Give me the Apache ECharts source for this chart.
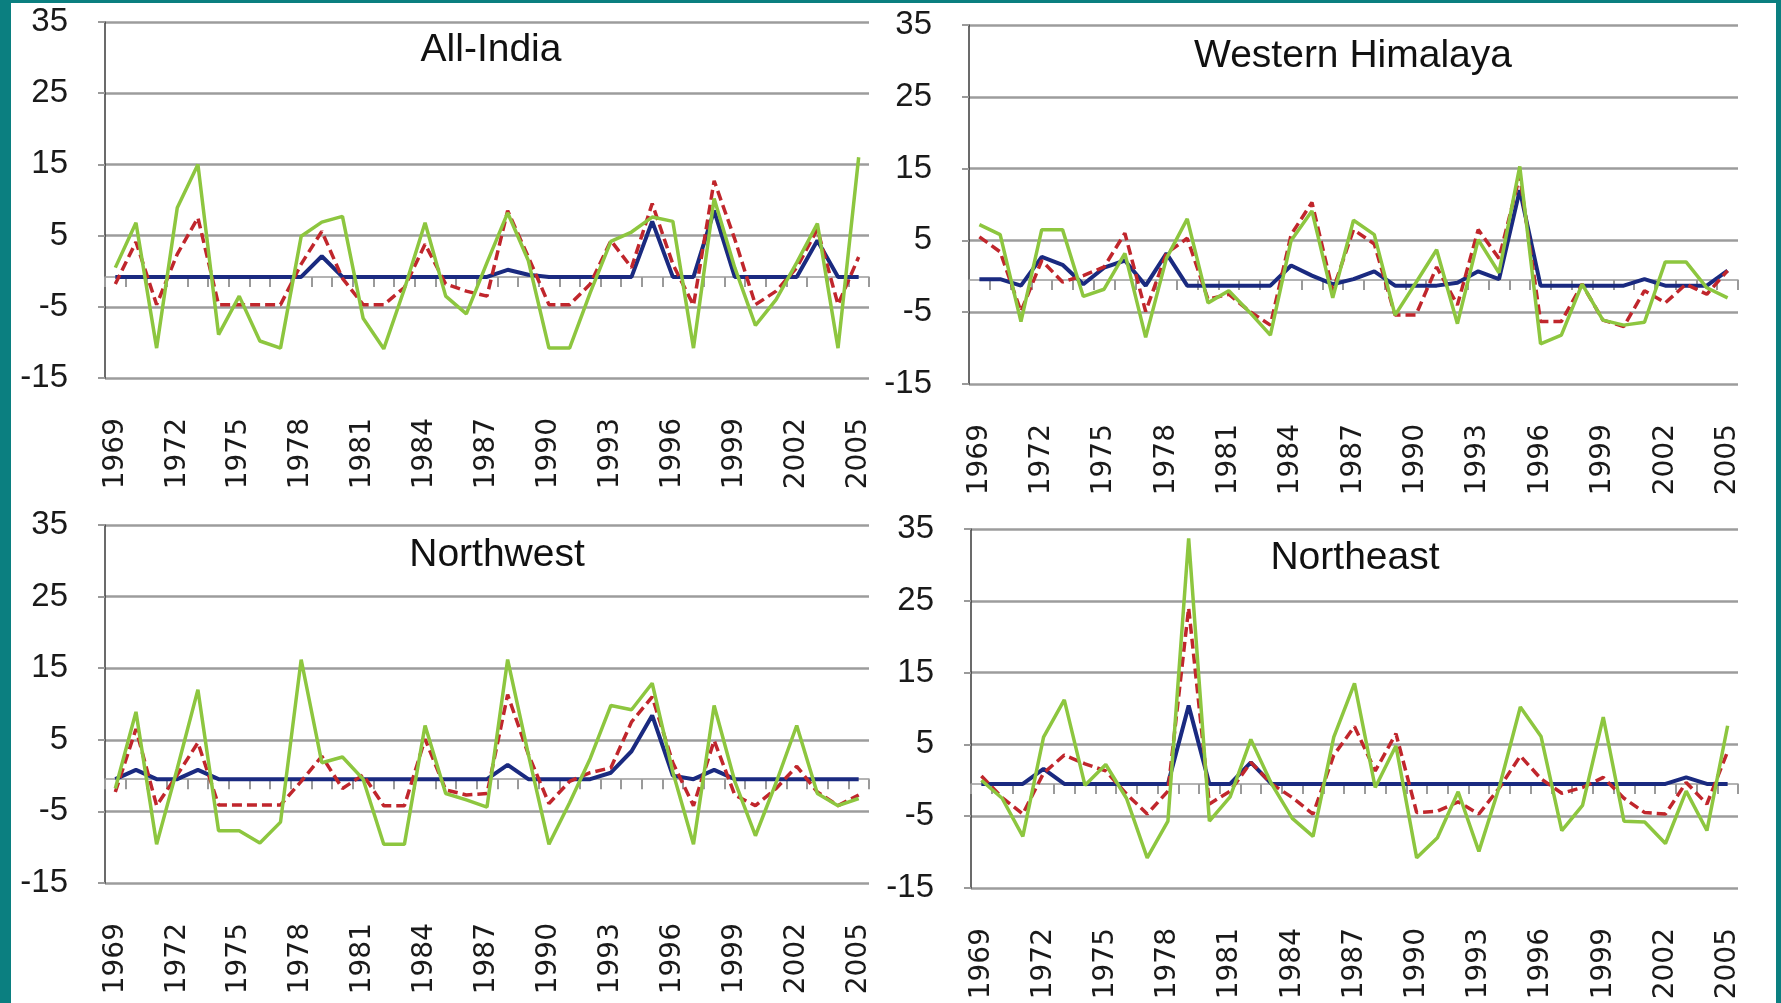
<!DOCTYPE html>
<html><head><meta charset="utf-8">
<script src="https://cdn.jsdelivr.net/npm/echarts@6/dist/echarts.min.js"></script>
<style>
html,body{margin:0;padding:0;width:1781px;height:1003px;overflow:hidden;background:#0b7f80;}
#paper{position:absolute;left:11px;top:3px;right:5px;bottom:0;background:#ffffff;}
#chart{position:absolute;left:0;top:0;width:1781px;height:1003px;}
</style></head><body><div id="paper"></div><div id="chart"></div>
<script>
const years = ['1969','1970','1971','1972','1973','1974','1975','1976','1977','1978','1979','1980','1981','1982','1983','1984','1985','1986','1987','1988','1989','1990','1991','1992','1993','1994','1995','1996','1997','1998','1999','2000','2001','2002','2003','2004','2005'];

const panelTitles = ['All-India', 'Western Himalaya', 'Northwest', 'Northeast'];
// value where the category axis line crosses each panel's y axis
const axisCross = [-0.8, -0.5, -0.5, -0.5];

const allIndiaBlue  = [-0.8,-0.8,-0.8,-0.8,-0.8,-0.8,-0.8,-0.8,-0.8,-0.8,2.1,-0.8,-0.8,-0.8,-0.8,-0.8,-0.8,-0.8,-0.8,0.2,-0.5,-0.8,-0.8,-0.8,-0.8,-0.8,7,-0.8,-0.8,8.5,-0.8,-0.8,-0.8,-0.8,4.3,-0.8,-0.8];
const allIndiaRed   = [-1.8,4.1,-4.7,2.4,7.5,-4.7,-4.7,-4.7,-4.7,1,5.6,-1,-4.7,-4.7,-2.3,3.8,-1.8,-2.8,-3.5,8.5,2,-4.7,-4.7,-1.8,4.3,0.5,9.5,1,-4.8,12.7,4.5,-4.7,-2.8,0.5,5.9,-4.7,2];
const allIndiaGreen = [0.5,6.8,-10.8,8.9,15,-8.9,-3.5,-9.8,-10.8,4.9,6.9,7.7,-6.6,-10.9,-2.5,6.8,-3.5,-6,1.2,8.2,1.5,-10.8,-10.8,-3,4.2,5.5,7.6,7,-10.8,10.2,0.5,-7.6,-4,1.2,6.7,-10.8,16];

const wHimBlue  = [-0.4,-0.4,-1.3,2.7,1.6,-1.1,1.2,2.2,-1.3,3.2,-1.3,-1.3,-1.3,-1.3,-1.3,1.5,0.1,-1.1,-0.4,0.7,-1.3,-1.3,-1.3,-0.9,0.7,-0.4,12,-1.3,-1.3,-1.3,-1.3,-1.3,-0.4,-1.3,-1.3,-1.3,0.8];
const wHimRed   = [5.5,3.4,-4.9,2.2,-0.8,0.1,1.3,6,-4.9,3.2,5.3,-3.2,-2.5,-4.9,-6.8,5.8,10.3,-2,6.5,4.5,-5.4,-5.4,1.3,-4,6.5,2.5,14,-6.3,-6.3,-1.1,-6.1,-7,-2,-3.7,-1.1,-2.5,0.8];
const wHimGreen = [7.2,5.8,-6.3,6.5,6.5,-2.8,-1.8,3.2,-8.5,2.5,8,-3.7,-2,-5,-8.2,5,9.1,-3,7.8,5.8,-5.4,-0.9,3.7,-6.6,5.1,0.5,15.3,-9.4,-8.2,-1.1,-6.1,-6.8,-6.4,2,2,-1.6,-3];

const nwBlue  = [-0.5,0.8,-0.5,-0.5,0.8,-0.5,-0.5,-0.5,-0.5,-0.5,-0.5,-0.5,-0.5,-0.5,-0.5,-0.5,-0.5,-0.5,-0.5,1.5,-0.5,-0.5,-0.5,-0.5,0.4,3.4,8.4,0,-0.5,0.8,-0.5,-0.5,-0.5,-0.5,-0.5,-0.5,-0.5];
const nwRed   = [-2.3,6.5,-4.2,0.1,4.6,-4.1,-4.1,-4.1,-4.1,-0.8,2.7,-1.8,0.1,-4.2,-4.2,5.1,-2,-2.7,-2.5,11.3,3,-3.9,-0.8,0.4,1.1,7.5,11,1.8,-4.2,4.9,-2.7,-4.2,-1.8,1.3,-2.3,-4.2,-2.7];
const nwGreen = [-1.8,8.9,-9.6,1,12,-7.7,-7.7,-9.4,-6.5,16.2,1.8,2.6,-0.5,-9.6,-9.6,7,-2.5,-3.4,-4.4,16.2,3,-9.6,-3.8,2.4,9.8,9.2,12.9,0.5,-9.6,9.8,-0.8,-8.4,-1,7,-2.5,-4.2,-3.2];

const neBlue  = [-0.5,-0.5,-0.5,1.6,-0.5,-0.5,-0.5,-0.5,-0.5,-0.5,10.4,-0.5,-0.5,2.5,-0.5,-0.5,-0.5,-0.5,-0.5,-0.5,-0.5,-0.5,-0.5,-0.5,-0.5,-0.5,-0.5,-0.5,-0.5,-0.5,-0.5,-0.5,-0.5,-0.5,0.4,-0.5,-0.5];
const neRed   = [0.6,-2.4,-4.7,1,3.5,2.3,1.3,-1.9,-4.7,-1.5,24,-3.3,-1.5,2.5,-0.5,-2.4,-4.7,3.5,7.5,1.3,6.5,-4.5,-4.3,-3,-4.7,-1,3.4,0.2,-1.8,-1,0.4,-2.5,-4.5,-4.7,-0.3,-3.3,4];
const neGreen = [0,-2.5,-7.8,6,11.2,-0.7,2.2,-2.5,-10.8,-5.7,33.7,-5.7,-2.3,5.7,-0.5,-5.3,-7.8,6,13.5,-1,4.8,-10.8,-8,-1.6,-9.9,-0.8,10.2,6.1,-7,-3.5,8.8,-5.7,-5.8,-8.8,-1.5,-7,7.6];

const panelSeries = [
  [allIndiaBlue, allIndiaRed, allIndiaGreen],
  [wHimBlue, wHimRed, wHimGreen],
  [nwBlue, nwRed, nwGreen],
  [neBlue, neRed, neGreen]
];

// layout (pixels)
const gridBoxes = [
  {left:105, top:22,  width:764, height:356},
  {left:969, top:25,  width:769, height:359},
  {left:105, top:525, width:764, height:358},
  {left:971, top:529, width:767, height:359}
];
const titlePos = [[491,31],[1353,37],[497,536],[1355,539]];

const lineStyles = [
  {color:'#1a2a80', width:4, type:'solid'},
  {color:'#c0262c', width:3.5, type:[10,5]},
  {color:'#8dc63f', width:3.5, type:'solid'}
];

const option = {animation:false, backgroundColor:'transparent', title:[], grid:[], xAxis:[], yAxis:[], series:[]};

panelTitles.forEach((t, k) => {
  option.grid.push(Object.assign({containLabel:false}, gridBoxes[k]));
  option.title.push({
    text: t, left: titlePos[k][0], top: titlePos[k][1], textAlign:'center', padding:0,
    textStyle:{fontFamily:'Liberation Sans', fontSize:39, fontWeight:'normal', color:'#111'}
  });
  option.yAxis.push({
    type:'value', gridIndex:k, min:-15, max:35, interval:10,
    axisLine:{show:true, lineStyle:{color:'#3a3a3a', width:1.5}},
    axisTick:{show:true, length:7, lineStyle:{color:'#9a9a9a', width:2}},
    axisLabel:{margin:37, fontFamily:'Liberation Sans', fontSize:33, color:'#1a1a1a'},
    splitLine:{show:true, lineStyle:{color:'#9c9c9c', width:2.5}}
  });
  option.yAxis.push({
    type:'value', gridIndex:k, min:-15 - axisCross[k], max:35 - axisCross[k], show:false
  });
  option.xAxis.push({
    type:'category', gridIndex:k, data:years, position:'bottom', boundaryGap:true,
    axisLine:{show:false, onZero:false}, axisTick:{show:false}, splitLine:{show:false},
    axisLabel:{interval:2, rotate:90, margin:40, fontFamily:'DejaVu Sans', fontSize:28, color:'#1a1a1a'}
  });
  option.xAxis.push({
    type:'category', gridIndex:k, data:years, position:'bottom', boundaryGap:true,
    axisLine:{show:true, onZero:true, onZeroAxisIndex:2*k+1, lineStyle:{color:'#9a9a9a', width:1.5}},
    axisTick:{show:true, interval:0, length:10, lineStyle:{color:'#9a9a9a', width:2}},
    axisLabel:{show:false}, splitLine:{show:false}
  });
  panelSeries[k].forEach((vals, s) => {
    option.series.push({
      type:'line', xAxisIndex:2*k, yAxisIndex:2*k, data:vals, symbol:'none',
      lineStyle:lineStyles[s], z: 2 + s
    });
  });
});

const chart = echarts.init(document.getElementById('chart'), null, {renderer:'canvas'});
chart.setOption(option);
</script></body></html>
